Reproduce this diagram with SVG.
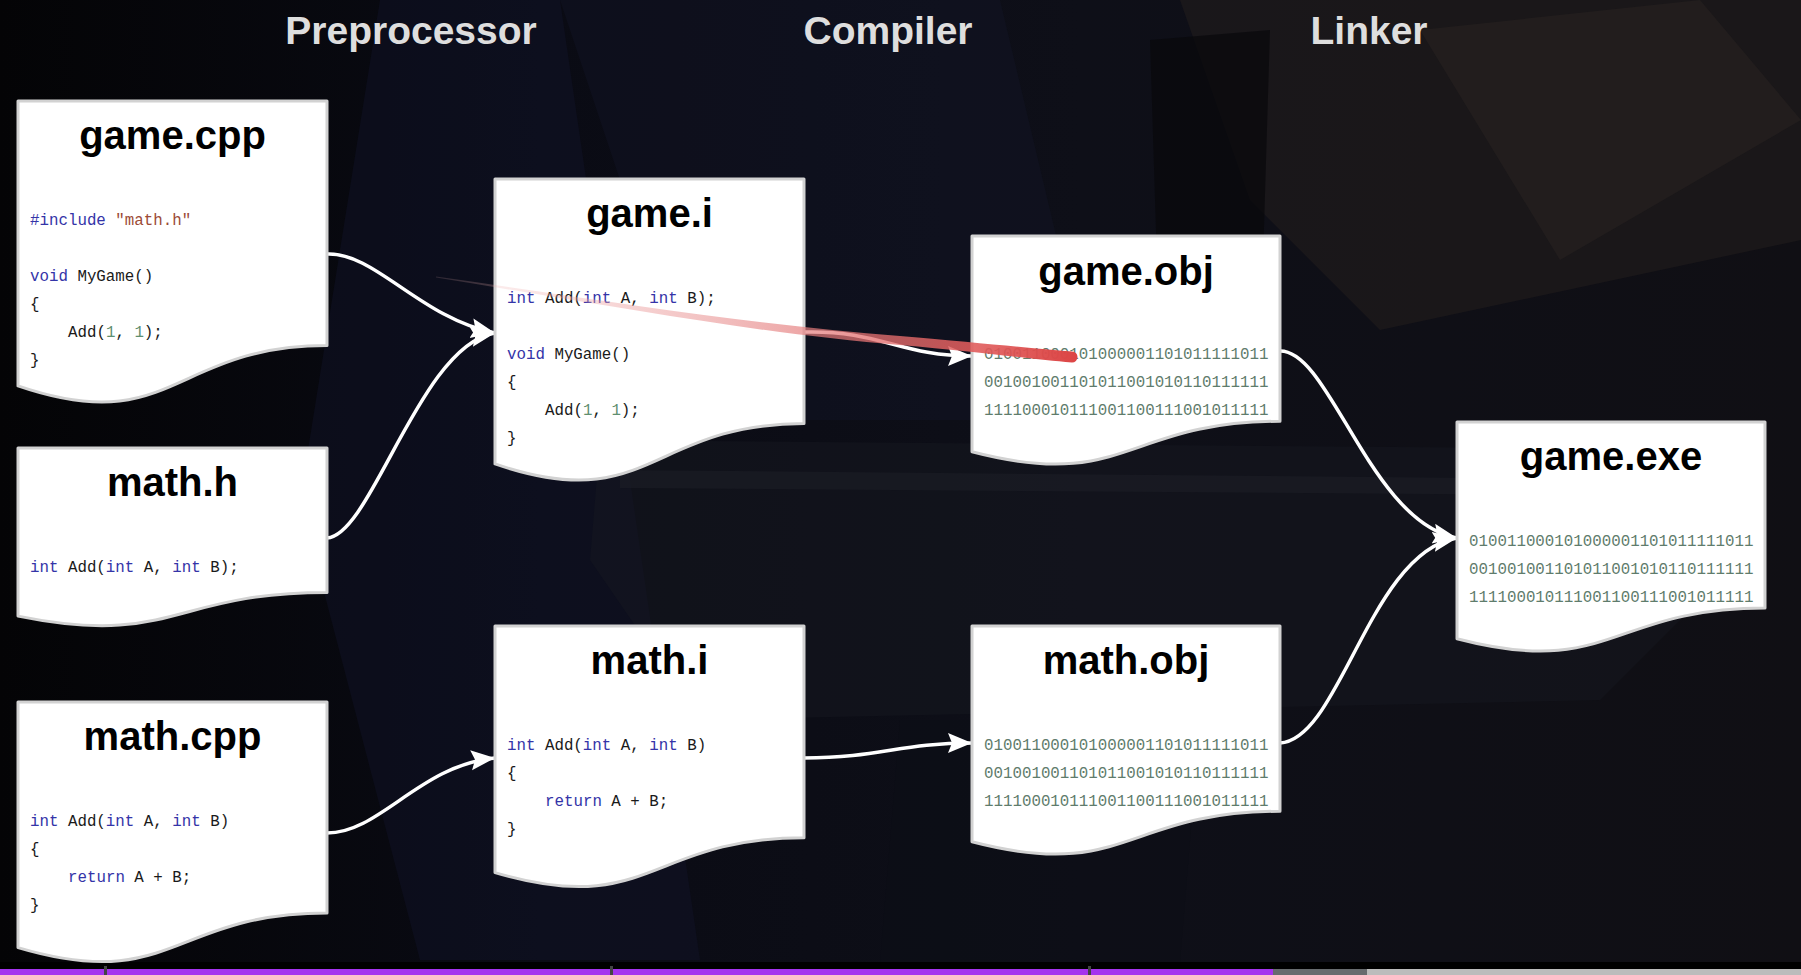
<svg xmlns="http://www.w3.org/2000/svg" width="1801" height="975" viewBox="0 0 1801 975">
<defs>
<style>
.stage{font-family:"Liberation Sans",Arial,sans-serif;font-weight:bold;font-size:39px;fill:#dedede;text-anchor:middle}
.doc{fill:#ffffff;stroke:#d2d2d2;stroke-width:3;stroke-linejoin:round}
.title{font-family:"Liberation Sans",Arial,sans-serif;font-weight:bold;font-size:40px;fill:#000;text-anchor:middle}
.code{font-family:"Liberation Mono","DejaVu Sans Mono",monospace;font-size:15.8px;fill:#1a1a1a}
.kw{fill:#3434a8}
.str{fill:#9c4a36}
.num{fill:#5f8f70}
.bin{font-family:"Liberation Mono","DejaVu Sans Mono",monospace;font-size:15.8px;fill:#5f7c6c}
.conn{fill:none;stroke:#ffffff;stroke-width:3.5;marker-end:url(#arrow)}
</style>
<marker id="arrow" markerUnits="userSpaceOnUse" markerWidth="26" markerHeight="22" refX="24" refY="10" orient="auto">
<path d="M0,0 L24,10 L0,20 L4,10 Z" fill="#ffffff"/>
</marker>
<linearGradient id="bg" x1="0" y1="0" x2="1" y2="0">
<stop offset="0" stop-color="#040406"/>
<stop offset="0.3" stop-color="#0a0b14"/>
<stop offset="0.6" stop-color="#0e0f18"/>
<stop offset="1" stop-color="#100f14"/>
</linearGradient>
<linearGradient id="laser" gradientUnits="userSpaceOnUse" x1="436" y1="0" x2="1078" y2="0">
<stop offset="0" stop-color="#f2b8b8" stop-opacity="0.15"/>
<stop offset="0.45" stop-color="#e89090" stop-opacity="0.6"/>
<stop offset="1" stop-color="#dc4444" stop-opacity="1"/>
</linearGradient>
</defs>

<g id="background">
<rect x="0" y="0" width="1801" height="962" fill="url(#bg)"/>
<polygon points="380,0 560,0 700,960 420,960 300,500" fill="#12142a" opacity="0.45"/>
<polygon points="560,0 1000,0 1100,420 700,420" fill="#14162a" opacity="0.35"/>
<polygon points="1180,0 1801,0 1801,240 1380,330 1250,200" fill="#221c1c" opacity="0.6"/>
<polygon points="1420,30 1700,0 1801,120 1560,260" fill="#2a2322" opacity="0.5"/>
<polygon points="1150,40 1270,30 1260,360 1160,360" fill="#08090c" opacity="0.7"/>
<polygon points="600,440 1740,450 1760,540 1600,700 700,720 590,560" fill="#16171f" opacity="0.5"/>
<polygon points="620,470 1700,480 1700,496 620,488" fill="#1e1f28" opacity="0.5"/>
<polygon points="900,720 1200,720 1180,962 880,962" fill="#0c0d15" opacity="0.5"/>
<rect x="0" y="962" width="1801" height="8" fill="#000000"/>
<rect x="0" y="969" width="1273" height="6" fill="#a533ee"/>
<rect x="1273" y="969" width="94" height="6" fill="#676b6e"/>
<rect x="1367" y="969" width="434" height="6" fill="#bcbcbc"/>
<rect x="104" y="966" width="3" height="9" fill="#444"/>
<rect x="610" y="966" width="3" height="9" fill="#444"/>
<rect x="1088" y="966" width="3" height="9" fill="#444"/>
</g>

<g id="stages">
<text class="stage" x="411" y="44">Preprocessor</text>
<text class="stage" x="888" y="44">Compiler</text>
<text class="stage" x="1369" y="44">Linker</text>
</g>

<g id="connectors">
<path class="conn" d="M327,254 C375,252 420,318 495,333"/>
<path class="conn" d="M327,538 C372,535 420,345 495,333"/>
<path class="conn" d="M327,833 C380,833 420,765 495,758"/>
<path class="conn" d="M804,332 C880,330 900,356 972,356"/>
<path class="conn" d="M804,758 C880,758 900,743 972,743"/>
<path class="conn" d="M1280,351 C1330,350 1370,522 1457,538"/>
<path class="conn" d="M1280,743 C1340,740 1370,552 1457,538"/>
</g>

<g id="game-cpp">
<path class="doc" d="M18,101 H327 V345.6 C172.5,345.6 172.5,438.8 18,385.9 Z"/>
<text class="title" x="172.5" y="149">game.cpp</text>
<text class="code" x="30" y="225"><tspan class="kw">#include</tspan> <tspan class="str">"math.h"</tspan></text>
<text class="code" x="30" y="281"><tspan class="kw">void</tspan> MyGame()</text>
<text class="code" x="30" y="309">{</text>
<text class="code" x="68" y="337">Add(<tspan class="num">1</tspan>, <tspan class="num">1</tspan>);</text>
<text class="code" x="30" y="365">}</text>
</g>

<g id="math-h">
<path class="doc" d="M18,448 H327 V592.4 C172.5,592.4 172.5,647.4 18,616.1 Z"/>
<text class="title" x="172.5" y="496">math.h</text>
<text class="code" x="30" y="572"><tspan class="kw">int</tspan> Add(<tspan class="kw">int</tspan> A, <tspan class="kw">int</tspan> B);</text>
</g>

<g id="math-cpp">
<path class="doc" d="M18,702 H327 V912.9 C172.5,912.9 172.5,993.3 18,947.6 Z"/>
<text class="title" x="172.5" y="750">math.cpp</text>
<text class="code" x="30" y="826"><tspan class="kw">int</tspan> Add(<tspan class="kw">int</tspan> A, <tspan class="kw">int</tspan> B)</text>
<text class="code" x="30" y="854">{</text>
<text class="code" x="68" y="882"><tspan class="kw">return</tspan> A + B;</text>
<text class="code" x="30" y="910">}</text>
</g>

<g id="game-i">
<path class="doc" d="M495,179 H804 V423.6 C649.5,423.6 649.5,516.8 495,463.9 Z"/>
<text class="title" x="649.5" y="227">game.i</text>
<text class="code" x="507" y="303"><tspan class="kw">int</tspan> Add(<tspan class="kw">int</tspan> A, <tspan class="kw">int</tspan> B);</text>
<text class="code" x="507" y="359"><tspan class="kw">void</tspan> MyGame()</text>
<text class="code" x="507" y="387">{</text>
<text class="code" x="545" y="415">Add(<tspan class="num">1</tspan>, <tspan class="num">1</tspan>);</text>
<text class="code" x="507" y="443">}</text>
</g>

<g id="math-i">
<path class="doc" d="M495,626 H804 V837.7 C649.5,837.7 649.5,918.4 495,872.6 Z"/>
<text class="title" x="649.5" y="674">math.i</text>
<text class="code" x="507" y="750"><tspan class="kw">int</tspan> Add(<tspan class="kw">int</tspan> A, <tspan class="kw">int</tspan> B)</text>
<text class="code" x="507" y="778">{</text>
<text class="code" x="545" y="806"><tspan class="kw">return</tspan> A + B;</text>
<text class="code" x="507" y="834">}</text>
</g>

<g id="game-obj">
<path class="doc" d="M972,236 H1280 V421.3 C1126,421.3 1126,491.8 972,451.8 Z"/>
<text class="title" x="1126" y="285">game.obj</text>
<text class="bin" x="984" y="359">010011000101000001101011111011</text>
<text class="bin" x="984" y="387">001001001101011001010110111111</text>
<text class="bin" x="984" y="415">111100010111001100111001011111</text>
</g>

<g id="math-obj">
<path class="doc" d="M972,626 H1280 V811.3 C1126,811.3 1126,881.8 972,841.8 Z"/>
<text class="title" x="1126" y="674">math.obj</text>
<text class="bin" x="984" y="750">010011000101000001101011111011</text>
<text class="bin" x="984" y="778">001001001101011001010110111111</text>
<text class="bin" x="984" y="806">111100010111001100111001011111</text>
</g>

<g id="game-exe">
<path class="doc" d="M1457,422 H1765 V608.1 C1611,608.1 1611,678.9 1457,638.7 Z"/>
<text class="title" x="1611" y="470">game.exe</text>
<text class="bin" x="1469" y="546">010011000101000001101011111011</text>
<text class="bin" x="1469" y="574">001001001101011001010110111111</text>
<text class="bin" x="1469" y="602">111100010111001100111001011111</text>
</g>

<g id="laser-stroke">
<path d="M436,276.5 C600,300 760,326 900,336 C980,343 1030,348 1072,351.5 A5.5,5.5 0 0 1 1072,362.5 C1030,359 980,352 900,345 C760,334 600,304 436,277.5 Z" fill="url(#laser)"/>
</g>
</svg>
